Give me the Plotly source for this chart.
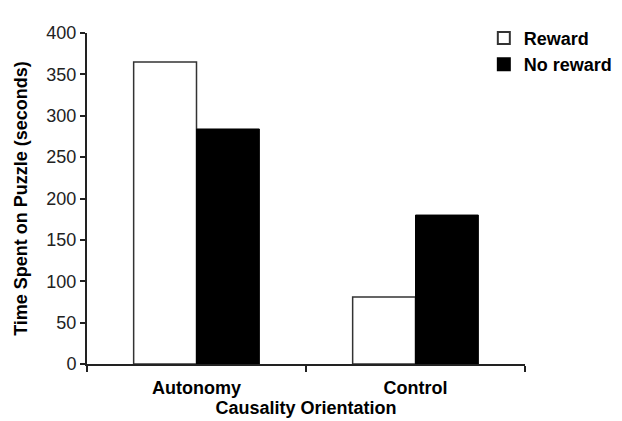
import plotly.graph_objects as go

categories = ["Autonomy", "Control"]
reward = [365, 81]
no_reward = [284, 180]
y_ticks = [0, 50, 100, 150, 200, 250, 300, 350, 400]

FONT = "Liberation Sans, Arial, sans-serif"

fig = go.Figure()
fig.add_trace(go.Bar(
    x=categories, y=reward, name="Reward",
    marker=dict(color="white", line=dict(color="#333333", width=1.5)),
))
fig.add_trace(go.Bar(
    x=categories, y=no_reward, name="No reward",
    marker=dict(color="black", line=dict(color="black", width=1)),
))

fig.update_layout(
    width=622, height=421,
    margin=dict(l=79, r=97, t=13, b=65),
    paper_bgcolor="white", plot_bgcolor="white",
    barmode="group", bargap=0.426, bargroupgap=0,
    font=dict(family=FONT, color="#222222"),
    showlegend=True,
    legend=dict(
        x=0.906, y=1.040, xanchor="left", yanchor="top",
        font=dict(family=FONT, size=18, color="black", weight="bold"),
        tracegroupgap=0, itemsizing="constant",
        bgcolor="rgba(0,0,0,0)",
    ),
    xaxis=dict(
        showline=True, linecolor="#222222", linewidth=2,
        ticks="outside", tickson="boundaries", ticklen=6, tickwidth=2, tickcolor="#222222",
        ticklabelstandoff=6,
        tickfont=dict(family=FONT, size=18, color="black", weight="bold"),
        title=dict(text="Causality Orientation", standoff=3,
                   font=dict(family=FONT, size=18, color="black", weight="bold")),
        showgrid=False, zeroline=False,
    ),
    yaxis=dict(
        range=[0, 400], tickvals=y_ticks,
        showline=True, linecolor="#222222", linewidth=2,
        ticks="outside", ticklen=5, tickwidth=2, tickcolor="#222222",
        tickfont=dict(family=FONT, size=18, color="#222222"),
        title=dict(text="Time Spent on Puzzle (seconds)", standoff=14,
                   font=dict(family=FONT, size=18, color="black", weight="bold")),
        showgrid=False, zeroline=False,
    ),
)

fig.write_html("out.html")
